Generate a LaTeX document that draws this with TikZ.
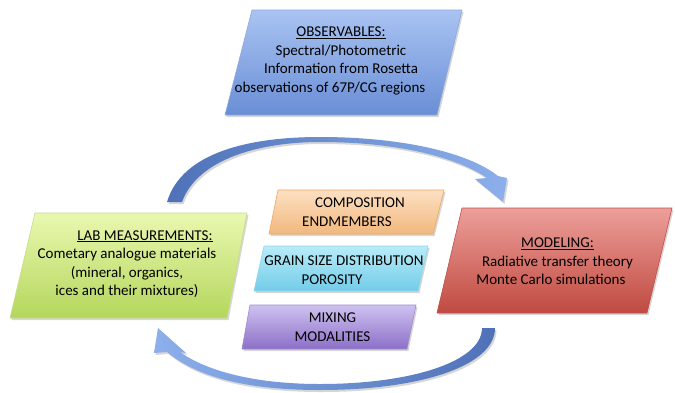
\documentclass[tikz,border=0pt]{standalone}
\usepackage{fontspec}
\setmainfont{Carlito}
\definecolor{obsTop}{HTML}{A9C3F2}
\definecolor{obsBot}{HTML}{6A8ED6}
\definecolor{obsLine}{HTML}{8FA9DA}
\definecolor{labTop}{HTML}{EAF8B0}
\definecolor{labBot}{HTML}{B4D65C}
\definecolor{labLine}{HTML}{C5DE8A}
\definecolor{modTop}{HTML}{ED9F9A}
\definecolor{modBot}{HTML}{BF4A40}
\definecolor{modLine}{HTML}{C0504D}
\definecolor{cmpTop}{HTML}{FCE0C2}
\definecolor{cmpBot}{HTML}{F2B77E}
\definecolor{cmpLine}{HTML}{F2A65E}
\definecolor{grnTop}{HTML}{B8ECF8}
\definecolor{grnBot}{HTML}{72CCE9}
\definecolor{grnLine}{HTML}{8ED6EE}
\definecolor{mixTop}{HTML}{CFC2F0}
\definecolor{mixBot}{HTML}{8C6FC8}
\definecolor{mixLine}{HTML}{A08AD0}
\definecolor{arrDark}{HTML}{4E71B8}
\definecolor{arrLight}{HTML}{8DB0EC}
\begin{document}
\begin{tikzpicture}[x=1pt,y=-1pt,
  boxtext/.style={font=\fontsize{15}{18.5}\selectfont, align=center, text=black, inner sep=0pt},
  shadowpath/.style={fill=black, opacity=0.16, xshift=1.5pt, yshift=-2pt},
  boxline/.style={line width=0.6pt}]
\fill[white] (0,0) rectangle (675,392);
\useasboundingbox (0,0) rectangle (675,392);

% top curved arrow (LAB -> MODELING)
\path[shadowpath] (167,202) .. controls (182,152) and (250,137) .. (320,137)
  .. controls (400,137) and (468,152) .. (498,176) -- (507,178) -- (503,202) -- (475,179) -- (487,178)
  .. controls (458,158) and (400,142) .. (320,142)
  .. controls (262,142) and (198,158) .. (182,202) -- cycle;
\path[left color=arrDark, right color=arrLight] (167,202) .. controls (182,152) and (250,137) .. (320,137)
  .. controls (400,137) and (468,152) .. (498,176) -- (507,178) -- (503,202) -- (475,179) -- (487,178)
  .. controls (458,158) and (400,142) .. (320,142)
  .. controls (262,142) and (198,158) .. (182,202) -- cycle;

% bottom curved arrow (MODELING -> LAB)
\path[shadowpath] (482,328) .. controls (482,362) and (410,384) .. (320,384)
  .. controls (252,384) and (205,370) .. (180,352) -- (186,353) -- (158,328) -- (154,353) -- (167,352)
  .. controls (198,378) and (250,390) .. (320,390)
  .. controls (420,390) and (495,366) .. (495,328) -- cycle;
\path[left color=arrLight, right color=arrDark] (482,328) .. controls (482,362) and (410,384) .. (320,384)
  .. controls (252,384) and (205,370) .. (180,352) -- (186,353) -- (158,328) -- (154,353) -- (167,352)
  .. controls (198,378) and (250,390) .. (320,390)
  .. controls (420,390) and (495,366) .. (495,328) -- cycle;

% OBSERVABLES
\path[shadowpath] (252,10) -- (462,10) -- (437,115) -- (225,115) -- cycle;
\path[top color=obsTop, bottom color=obsBot, draw=obsLine, boxline] (252,10) -- (462,10) -- (437,115) -- (225,115) -- cycle;
\node[boxtext] (obs) at (341,61) {\underline{OBSERVABLES:}\\Spectral/Photometric\\Information from Rosetta\\observations of 67P/CG regions\hspace*{22pt}};

% LAB MEASUREMENTS
\path[shadowpath] (35,213) -- (247,213) -- (227,318) -- (10,318) -- cycle;
\path[top color=labTop, bottom color=labBot, draw=labLine, boxline] (35,213) -- (247,213) -- (227,318) -- (10,318) -- cycle;
\node[boxtext] (lab) at (127,264) {\hspace*{36pt}\underline{LAB MEASUREMENTS:}\\Cometary analogue materials\\(mineral, organics,\\ices and their mixtures)};

% MODELING
\path[shadowpath] (462,208) -- (672,208) -- (647,313) -- (437,313) -- cycle;
\path[top color=modTop, bottom color=modBot, draw=modLine, boxline] (462,208) -- (672,208) -- (647,313) -- (437,313) -- cycle;
\node[boxtext] (mod) at (557.5,261.5) {\underline{MODELING:}\\Radiative transfer theory\\Monte Carlo simulations\hspace*{13pt}};

% COMPOSITION
\path[shadowpath] (278,190) -- (444,190) -- (433,234) -- (269,234) -- cycle;
\path[top color=cmpTop, bottom color=cmpBot, draw=cmpLine, boxline] (278,190) -- (444,190) -- (433,234) -- (269,234) -- cycle;
\node[boxtext] (cmp) at (347,212) {\hspace*{26pt}COMPOSITION\\ENDMEMBERS};

% GRAIN SIZE
\path[shadowpath] (264,246) -- (428,246) -- (418,291) -- (254,291) -- cycle;
\path[top color=grnTop, bottom color=grnBot, draw=grnLine, boxline] (264,246) -- (428,246) -- (418,291) -- (254,291) -- cycle;
\node[boxtext] (grn) at (332,270) {\hspace*{24pt}GRAIN SIZE DISTRIBUTION\\POROSITY};

% MIXING
\path[shadowpath] (250,305) -- (416,305) -- (407,349) -- (242,349) -- cycle;
\path[top color=mixTop, bottom color=mixBot, draw=mixLine, boxline] (250,305) -- (416,305) -- (407,349) -- (242,349) -- cycle;
\node[boxtext] (mix) at (332.5,327) {MIXING\\MODALITIES};
\end{tikzpicture}
\end{document}
